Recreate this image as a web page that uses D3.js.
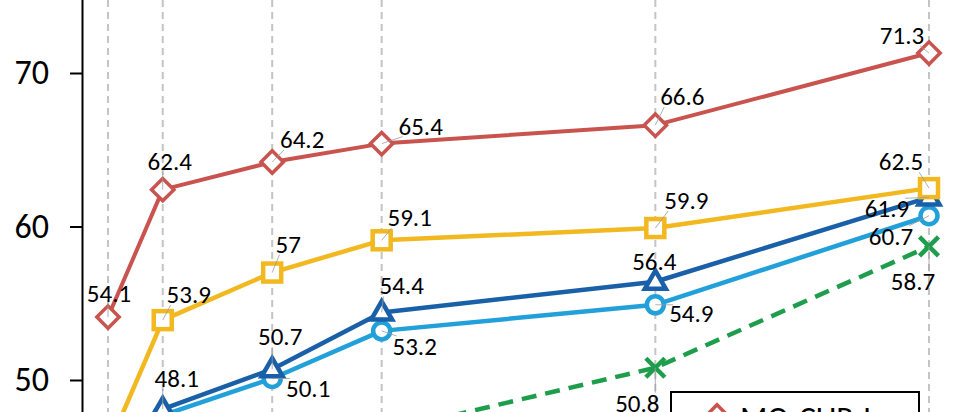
<!DOCTYPE html>
<html>
<head>
<meta charset="utf-8">
<script src="https://cdn.jsdelivr.net/npm/d3@7"></script>
<style>
  html, body { margin: 0; padding: 0; background: #fff; overflow: hidden; }
  svg { display: block; font-family: Carlito, Lato, "Open Sans", sans-serif; }
</style>
</head>
<body>
<svg id="chart" width="967" height="412"></svg>
<script>
// ---- data ----
const xValues = [1, 2, 4, 6, 11, 16];
const yTicks = [50, 60, 70];
const seriesNames = ["MQ-CUR-L", "Series B", "Series C", "Series D", "Series E"];
const redValues = [54.1, 62.4, 64.2, 65.4, 66.6, 71.3];
const yellowValues = [45.6, 53.9, 57.0, 59.1, 59.9, 62.5];
const darkBlueValues = [null, 48.1, 50.7, 54.4, 56.4, 61.9];
const lightBlueValues = [null, 47.7, 50.1, 53.2, 54.9, 60.7];
const greenValues = [null, null, null, 46.6, 50.8, 58.7];

// label placement offsets (dx: label centre from point, dy: baseline from point)
const redLabelOffsets = [[1,-15],[7,-20],[30,-14],[39,-9],[27,-20],[-27,-9]];
const yellowLabelOffsets = [null,[26,-17],[16,-20],[28,-14],[31,-19],[-28,-18]];
const darkBlueLabelOffsets = [null,[14,-22],[8,-24],[20,-18],[-1,-12],[-42,20]];
const lightBlueLabelOffsets = [null,null,[36,19],[33,24],[36,17],[-38,29]];
const greenLabelOffsets = [null,null,null,null,[-18,44],[-16,44]];

const svg = d3.select("#chart");
const W = 967, H = 412;

const x = d3.scaleLinear().domain([1, 16]).range([108, 929]);
const y = d3.scaleLinear().domain([45, 75]).range([456.75, -3.75]);

// vertical dashed gridlines
svg.append("g").selectAll("line").data(xValues).join("line")
  .attr("x1", d => x(d)).attr("x2", d => x(d))
  .attr("y1", 0).attr("y2", H)
  .attr("stroke", "#c4c4c4").attr("stroke-width", 2)
  .attr("stroke-dasharray", "7,5");

// y axis
const yAxis = svg.append("g").attr("transform", "translate(82,0)")
  .call(d3.axisLeft(y).tickValues(yTicks).tickSize(12).tickSizeOuter(0).tickPadding(21).tickFormat(d3.format("d")));
yAxis.select(".domain").attr("stroke", "#000").attr("stroke-width", 2);
yAxis.selectAll(".tick line").attr("stroke", "#000").attr("stroke-width", 2);
yAxis.selectAll(".tick text").attr("font-size", 34).attr("fill", "#000")
  .attr("font-family", "Carlito, Lato, 'Open Sans', sans-serif");

const series = [
  { name: seriesNames[4], values: greenValues, offs: greenLabelOffsets, color: "#1e9e4c", marker: "x", width: 4.5, dash: "15,9" },
  { name: seriesNames[3], values: lightBlueValues, offs: lightBlueLabelOffsets, color: "#22a0da", marker: "circle", width: 4.5 },
  { name: seriesNames[2], values: darkBlueValues, offs: darkBlueLabelOffsets, color: "#1a60a8", marker: "triangle", width: 4.5 },
  { name: seriesNames[1], values: yellowValues, offs: yellowLabelOffsets, color: "#f2b820", marker: "square", width: 4.5 },
  { name: seriesNames[0], values: redValues, offs: redLabelOffsets, color: "#c9534e", marker: "diamond", width: 4 }
];

const line = d3.line()
  .defined(d => d.v != null)
  .x(d => x(d.x)).y(d => y(d.v));

function pts(s) { return xValues.map((xv, i) => ({ x: xv, v: s.values[i], off: s.offs[i] })); }

const linesG = svg.append("g");
series.forEach(s => {
  linesG.append("path").datum(pts(s))
    .attr("d", line)
    .attr("fill", "none").attr("stroke", s.color).attr("stroke-width", s.width)
    .attr("stroke-linejoin", "round")
    .attr("stroke-dasharray", s.dash || null);
});

function drawMarker(g, type, cx, cy, color) {
  if (type === "diamond") {
    g.append("path").attr("d", d3.symbol(d3.symbolSquare, 250)())
      .attr("transform", `translate(${cx},${cy}) rotate(45)`)
      .attr("fill", "#fff").attr("stroke", color).attr("stroke-width", 3.5);
  } else if (type === "square") {
    g.append("rect").attr("x", cx - 9).attr("y", cy - 9).attr("width", 18).attr("height", 18)
      .attr("fill", "#fff").attr("stroke", color).attr("stroke-width", 4.5);
  } else if (type === "triangle") {
    g.append("path").attr("d", d3.symbol(d3.symbolTriangle, 190)())
      .attr("transform", `translate(${cx},${cy + 1})`)
      .attr("fill", "#fff").attr("stroke", color).attr("stroke-width", 4.5).attr("stroke-linejoin", "miter");
  } else if (type === "circle") {
    g.append("circle").attr("cx", cx).attr("cy", cy).attr("r", 8.5)
      .attr("fill", "#fff").attr("stroke", color).attr("stroke-width", 4.5);
  } else if (type === "x") {
    g.append("path").attr("d", "M-9.5,-9.5L9.5,9.5M-9.5,9.5L9.5,-9.5")
      .attr("transform", `translate(${cx},${cy})`)
      .attr("fill", "none").attr("stroke", color).attr("stroke-width", 4.5);
  }
}

const markersG = svg.append("g");
const leaderG = svg.append("g");
const labelsG = svg.append("g");
series.forEach(s => {
  pts(s).forEach(p => {
    if (p.v == null) return;
    drawMarker(markersG, s.marker, x(p.x), y(p.v), s.color);
  });
});
series.forEach(s => {
  pts(s).forEach(p => {
    if (p.v == null || !p.off) return;
    const px = x(p.x), py = y(p.v);
    const t = labelsG.append("text")
      .attr("x", px + p.off[0]).attr("y", py + p.off[1])
      .attr("text-anchor", "middle").attr("font-size", 25).attr("fill", "#000")
      .text(d3.format("")(p.v));
    const b = t.node().getBBox();
    const nx = Math.max(b.x + 4, Math.min(px, b.x + b.width - 4));
    const ny = Math.max(b.y + 5, Math.min(py, b.y + b.height - 5));
    const dist = Math.hypot(nx - px, ny - py);
    if (dist > 10) {
      leaderG.append("line")
        .attr("x1", px).attr("y1", py).attr("x2", nx).attr("y2", ny)
        .attr("stroke", "#9a9a9a").attr("stroke-width", 0.8);
    }
  });
});

// legend (partially visible)
const legend = svg.append("g");
legend.append("rect").attr("x", 671).attr("y", 392).attr("width", 248).attr("height", 120)
  .attr("fill", "#fff").attr("stroke", "#000").attr("stroke-width", 2);
legend.append("line").attr("x1", 695).attr("x2", 740).attr("y1", 416).attr("y2", 416)
  .attr("stroke", series[4].color).attr("stroke-width", 4);
drawMarker(legend, "diamond", 717, 416, series[4].color);
legend.append("text").attr("x", 740).attr("y", 429).attr("font-size", 32).attr("fill", "#000")
  .text(seriesNames[0]);
</script>
</body>
</html>
